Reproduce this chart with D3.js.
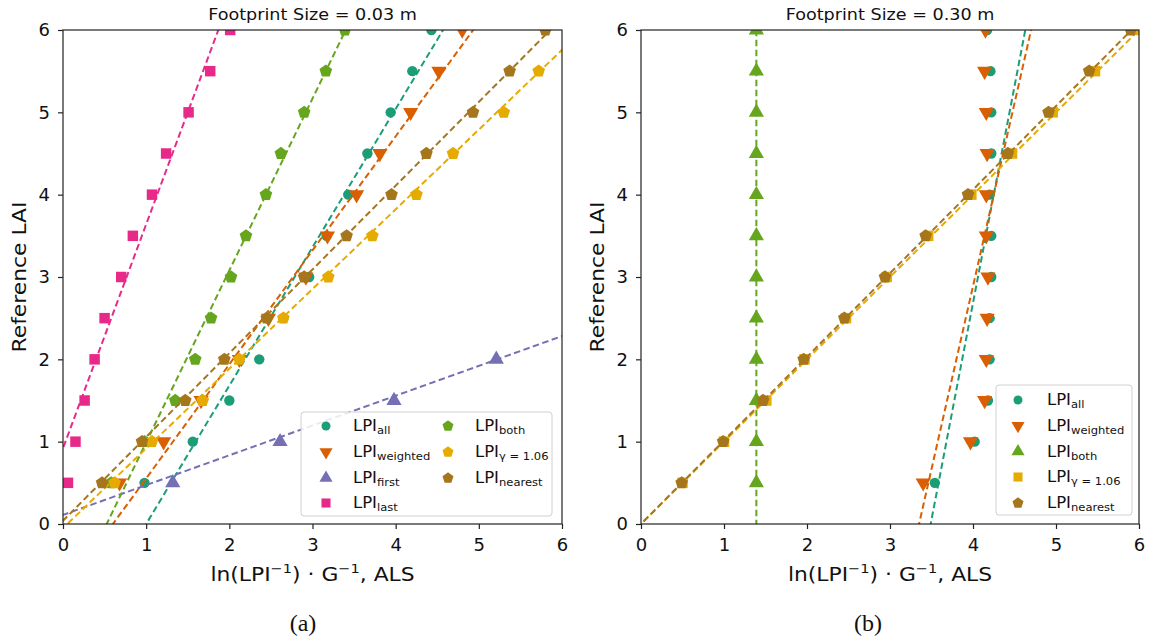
<!DOCTYPE html>
<html><head><meta charset="utf-8">
<script src="https://cdn.jsdelivr.net/npm/d3@7"></script>
<style>body{margin:0;background:#fff}</style>
</head><body><svg id="c" width="1151" height="643"></svg>
<script>
// ---------- data ----------
const refLAI = [0.5,1,1.5,2,2.5,3,3.5,4,4.5,5,5.5,6];
const xTicks = [0,1,2,3,4,5,6];
const yTicks = [0,1,2,3,4,5,6];
const titles = ["Footprint Size = 0.03 m","Footprint Size = 0.30 m"];
const captions = ["(a)","(b)"];

// panel (a): ALS value for each reference LAI
const a_all      = [0.98,1.56,2.00,2.36,2.65,2.96,3.17,3.43,3.66,3.94,4.20,4.43];
const a_weighted = [0.68,1.21,1.66,2.12,2.47,2.92,3.18,3.53,3.81,4.18,4.52,4.80];
const a_first    = [1.32,2.61,3.98,5.21,null,null,null,null,null,null,null,null];
const a_last     = [0.06,0.15,0.26,0.38,0.50,0.70,0.84,1.07,1.24,1.51,1.77,2.01];
const a_both     = [0.58,0.98,1.35,1.59,1.78,2.02,2.20,2.44,2.62,2.90,3.16,3.39];
const a_gamma    = [0.62,1.07,1.68,2.12,2.65,3.19,3.72,4.25,4.69,5.30,5.72,null];
const a_nearest  = [0.47,0.95,1.47,1.94,2.45,2.90,3.41,3.95,4.37,4.93,5.37,5.80];
// fitted lines, x = c + d * LAI
const a_fitAll      = [1.00,0.595];
const a_fitWeighted = [0.60,0.722];
const a_fitFirst    = [-0.304,2.762];
const a_fitLast     = [-0.338,0.3676];
const a_fitBoth     = [0.525,0.479];
const a_fitGamma    = [0.052,1.033];
const a_fitNearest  = [-0.039,0.983];

// panel (b)
const b_all      = [3.54,4.02,4.18,4.20,4.20,4.22,4.22,4.20,4.22,4.22,4.21,4.17];
const b_weighted = [3.40,3.97,4.14,4.16,4.17,4.18,4.16,4.16,4.17,4.16,4.14,4.15];
const b_both     = [1.39,1.39,1.39,1.39,1.39,1.39,1.39,1.39,1.39,1.39,1.39,1.39];
const b_gamma    = [0.50,1.00,1.51,1.97,2.47,2.96,3.46,3.98,4.47,4.96,5.47,5.97];
const b_nearest  = [0.49,0.99,1.47,1.96,2.45,2.94,3.43,3.94,4.42,4.91,5.40,5.90];
const b_fitAll      = [3.49,0.19];
const b_fitWeighted = [3.35,0.225];
const b_fitBoth     = [1.39,0];
const b_fitGamma    = [0,1.0];
const b_fitNearest  = [0,0.985];

// ---------- styles ----------
const C = {all:"#1b9e77",weighted:"#d95f02",first:"#7570b3",last:"#e7298a",both:"#66a61e",gamma:"#e6ab02",nearest:"#a6761d"};
const symPentagon = {draw(ctx,size){const r=Math.sqrt(size/2.3776);for(let i=0;i<5;i++){const a=-Math.PI/2+i*2*Math.PI/5;const px=r*Math.cos(a),py=r*Math.sin(a);i?ctx.lineTo(px,py):ctx.moveTo(px,py);}ctx.closePath();}};
const SH = {
  circle:{type:d3.symbolCircle,size:85,rot:0},
  down:{type:d3.symbolTriangle,size:100,rot:180},
  up:{type:d3.symbolTriangle,size:100,rot:0},
  square:{type:d3.symbolSquare,size:110,rot:0},
  pent:{type:symPentagon,size:105,rot:0}
};

const panels = [
  {x0:63,x1:562,title:titles[0],cap:captions[0],capX:303,
   series:[
    {sub:"all",col:C.all,sh:"circle",xs:a_all,fit:a_fitAll},
    {sub:"weighted",col:C.weighted,sh:"down",xs:a_weighted,fit:a_fitWeighted},
    {sub:"first",col:C.first,sh:"up",xs:a_first,fit:a_fitFirst},
    {sub:"last",col:C.last,sh:"square",xs:a_last,fit:a_fitLast},
    {sub:"both",col:C.both,sh:"pent",xs:a_both,fit:a_fitBoth},
    {sub:"γ = 1.06",col:C.gamma,sh:"pent",xs:a_gamma,fit:a_fitGamma},
    {sub:"nearest",col:C.nearest,sh:"pent",xs:a_nearest,fit:a_fitNearest}],
   legend:{x:301,y:412,w:251,h:104,cols:[[0,1,2,3],[4,5,6]],colX:[326,448],textDX:27,rowY:[426,452,478,503]}},
  {x0:641,x1:1139,title:titles[1],cap:captions[1],capX:868,
   series:[
    {sub:"all",col:C.all,sh:"circle",xs:b_all,fit:b_fitAll},
    {sub:"weighted",col:C.weighted,sh:"down",xs:b_weighted,fit:b_fitWeighted},
    {sub:"both",col:C.both,sh:"up",xs:b_both,fit:b_fitBoth},
    {sub:"γ = 1.06",col:C.gamma,sh:"square",xs:b_gamma,fit:b_fitGamma},
    {sub:"nearest",col:C.nearest,sh:"pent",xs:b_nearest,fit:b_fitNearest}],
   legend:{x:996,y:385,w:136,h:130,cols:[[0,1,2,3,4]],colX:[1018],textDX:29,rowY:[400,425.7,451.5,477,503]}}
];

const svg = d3.select("#c");
const FONT = "DejaVu Sans, sans-serif";
const yTop = 30, yBot = 524;

function stext(g, x, y, rot, sx, size, anchor, build){
  const gg = g.append("g").attr("transform",`translate(${x},${y}) rotate(${rot})`);
  const t = gg.append("text").attr("transform",`scale(${sx},1)`).attr("font-family",FONT)
     .attr("font-size",size).attr("text-anchor",anchor).attr("fill","#111");
  build(t);
  return t;
}
function lpiLabel(t, sub, fs){
  t.append("tspan").text("LPI");
  t.append("tspan").attr("font-size",fs*0.7).attr("dy",fs*0.22).text(sub);
}

panels.forEach((P,pi)=>{
  const x = d3.scaleLinear().domain([0,6]).range([P.x0,P.x1]);
  const y = d3.scaleLinear().domain([0,6]).range([yBot,yTop]);
  const g = svg.append("g");
  const clipId = "clip"+pi;
  svg.append("clipPath").attr("id",clipId).append("rect")
    .attr("x",P.x0).attr("y",yTop).attr("width",P.x1-P.x0).attr("height",yBot-yTop);
  const plot = g.append("g").attr("clip-path",`url(#${clipId})`);

  P.series.forEach(s=>{
    const pts = refLAI.map((v,i)=>({x:s.xs[i],y:v})).filter(d=>d.x!=null);
    const sh = SH[s.sh];
    plot.append("g").selectAll("path").data(pts).join("path")
      .attr("d",d3.symbol().type(sh.type).size(sh.size))
      .attr("transform",d=>`translate(${x(d.x)},${y(d.y)}) rotate(${sh.rot})`)
      .attr("fill",s.col);
    const ly = [-1,7];
    const line = d3.line().x(d=>x(s.fit[0]+s.fit[1]*d)).y(d=>y(d));
    plot.append("path").attr("d",line(ly)).attr("fill","none")
      .attr("stroke",s.col).attr("stroke-width",2).attr("stroke-dasharray","6.5,3.5");
  });

  // axes
  const ax = g.append("g").attr("transform",`translate(0,${yBot})`)
    .call(d3.axisBottom(x).tickValues(xTicks).tickSize(5).tickPadding(9).tickFormat(d3.format("d")));
  const ay = g.append("g").attr("transform",`translate(${P.x0},0)`)
    .call(d3.axisLeft(y).tickValues(yTicks).tickSize(5).tickPadding(8).tickFormat(d3.format("d")));
  [ax,ay].forEach(a=>{
    a.select(".domain").remove();
    a.selectAll(".tick line").attr("stroke","#222").attr("stroke-width",1.2);
    a.selectAll(".tick text").attr("font-family",FONT).attr("font-size",18).attr("fill","#111");
  });
  g.append("rect").attr("x",P.x0).attr("y",yTop).attr("width",P.x1-P.x0).attr("height",yBot-yTop)
    .attr("fill","none").attr("stroke","#222").attr("stroke-width",1.2);

  const cx = (P.x0+P.x1)/2;
  // title
  stext(g, cx, 20, 0, 1.1, 16, "middle", t=>t.text(P.title));
  // x label
  stext(g, cx, 581, 0, 1.12, 19.5, "middle", t=>{
    t.append("tspan").text("ln(LPI");
    t.append("tspan").attr("font-size",13).attr("dy",-8).text("−1");
    t.append("tspan").attr("dy",8).text(") · G");
    t.append("tspan").attr("font-size",13).attr("dy",-8).text("−1");
    t.append("tspan").attr("dy",8).text(", ALS");
  });
  // y label
  stext(g, P.x0-37, (yTop+yBot)/2, -90, 1.12, 19.5, "middle", t=>t.text("Reference LAI"));
  // caption
  g.append("text").attr("x",P.capX).attr("y",631).attr("text-anchor","middle")
    .attr("font-family","Liberation Serif, Times New Roman, serif").attr("font-size",24).attr("fill","#111").text(P.cap);

  // legend
  const L = P.legend;
  g.append("rect").attr("x",L.x).attr("y",L.y).attr("width",L.w).attr("height",L.h).attr("rx",3)
    .attr("fill","#fff").attr("fill-opacity",0.85).attr("stroke","#d0d0d0").attr("stroke-width",1);
  L.cols.forEach((col,ci)=>{
    col.forEach((si,ri)=>{
      const s = P.series[si]; const sh = SH[s.sh];
      g.append("path").attr("d",d3.symbol().type(sh.type).size(sh.size*0.75))
        .attr("transform",`translate(${L.colX[ci]},${L.rowY[ri]}) rotate(${sh.rot})`).attr("fill",s.col);
      stext(g, L.colX[ci]+L.textDX, L.rowY[ri]+5, 0, 1.1, 15, "start", t=>lpiLabel(t,s.sub,15));
    });
  });
});
</script></body></html>
